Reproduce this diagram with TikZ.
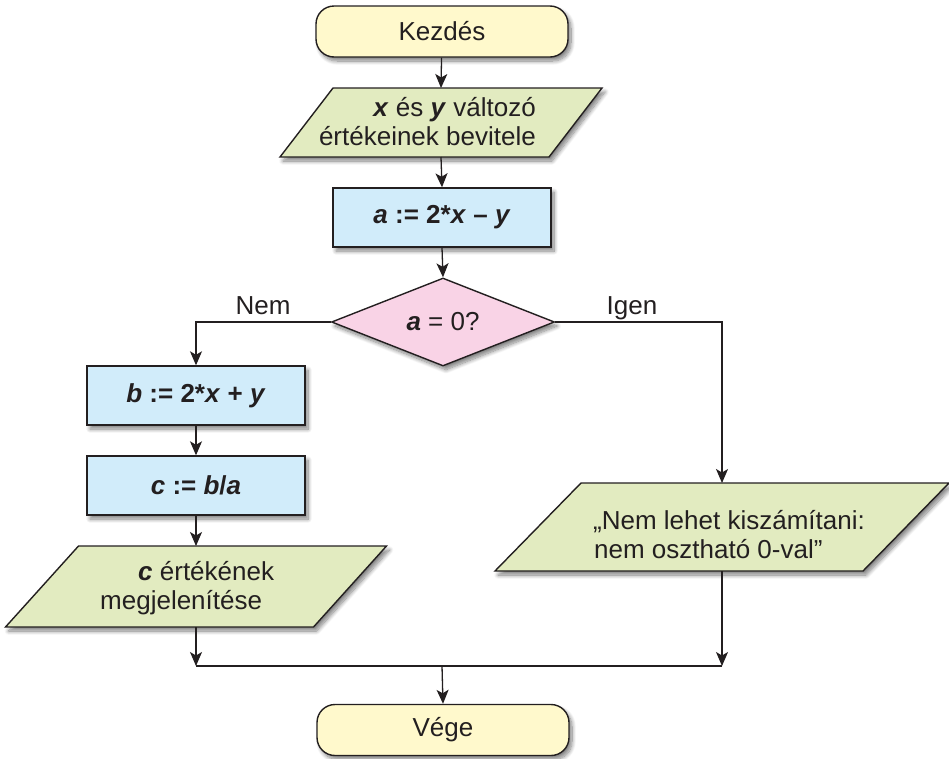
\documentclass[tikz,border=0pt]{standalone}
\usepackage{fontspec}
\setmainfont{Liberation Sans}
\usetikzlibrary{arrows.meta,shapes.geometric,shadows.blur}
\definecolor{linec}{HTML}{231F20}
\definecolor{termfill}{HTML}{FFF9CC}
\definecolor{procfill}{HTML}{D1ECFA}
\definecolor{decfill}{HTML}{F9D3E6}
\definecolor{iofill}{HTML}{E2EBC0}
\newcommand{\bi}[1]{\textbf{\textit{#1}}}
\newcommand{\drawio}[2]{%
  \path[draw=linec, line width=1.4pt, fill=iofill, shad, line join=miter]
    ([xshift=#2]#1.north west) -- ([xshift=#2]#1.north east) --
    ([xshift=-#2]#1.south east) -- ([xshift=-#2]#1.south west) -- cycle;}
\begin{document}
\begin{tikzpicture}[x=1pt,y=-1pt,
  font=\fontsize{26}{29}\selectfont, text=linec,
  shad/.style={blur shadow={shadow xshift=3pt,shadow yshift=-4pt,shadow opacity=50,shadow blur radius=4pt,shadow blur steps=10}},
  line/.style={draw=linec, line width=1.3pt},
  arr/.style={line, -{Stealth[length=14pt,width=12pt,inset=3.5pt]}},
  term/.style={draw=linec, line width=1.4pt, fill=termfill, rounded corners=18pt,
    minimum width=252pt, minimum height=51pt, inner sep=0pt, shad},
  proc/.style={draw=linec, line width=1.4pt, fill=procfill,
    minimum width=218pt, minimum height=59pt, inner sep=0pt, shad},
  dec/.style={diamond, draw=linec, line width=1.4pt, fill=decfill, aspect=2.5,
    minimum width=223pt, minimum height=88pt, inner sep=0pt, shad},
  iobase/.style={inner sep=0pt, outer sep=0pt},
  iotext/.style={inner sep=0pt, align=left},
  lbl/.style={inner sep=0pt}
]
\useasboundingbox (0,0) rectangle (949,758);

\node[term] (start) at (442,31.5) {Kezdés};

\node[iobase, minimum width=269pt, minimum height=69pt] (inp) at (441,122.5) {};
\drawio{inp}{26.5pt}
\node[iotext, align=right, anchor=east] (inpt) at (536,121.5) {\bi{x} és \bi{y} változó\\értékeinek bevitele};

\node[proc] (a) at (442,217.5) {\textbf{\textit{a} := 2*\textit{x} – \textit{y}}};

\node[dec] (dec) at (443,322) {\bi{a} = 0?};

\node[lbl, anchor=base] (nem) at (263,314) {Nem};
\node[lbl, anchor=base] (igen) at (632,314) {Igen};

\node[proc] (b) at (196,395.5) {\textbf{\textit{b} := 2*\textit{x} + \textit{y}}};
\node[proc] (c) at (196,485.5) {\textbf{\textit{c} := \textit{b}\textup{/}\textit{a}}};

\node[iobase, minimum width=308pt, minimum height=81pt] (outc) at (196,586.5) {};
\drawio{outc}{36.5pt}
\node[iotext, anchor=west] (outct) at (100,588.5) {\hspace*{38pt}\bi{c} értékének\\megjelenítése};

\node[iobase, minimum width=368pt, minimum height=88pt] (msg) at (722,527) {};
\drawio{msg}{43pt}
\node[iotext, anchor=west] (msgt) at (593,535) {„Nem lehet kiszámítani:\\\hspace*{1pt}nem osztható 0-val”};

\node[term] (end) at (443,730) {Vége};

\coordinate (jl) at (196,666);
\coordinate (jr) at (722,666);
\coordinate (jm) at (442,666);

\draw[arr] (start) -- (inp.north);
\draw[arr] (inp.south) -- (a.north);
\draw[arr] (a.south) -- (dec.north);
\draw[arr] (dec.west) -| (b.north);
\draw[arr] (b) -- (c);
\draw[arr] (c.south) -- (outc.north);
\draw[arr] (dec.east) -| (msg.north);
\draw[arr] (outc.south) -- (jl);
\draw[arr] (msg.south) -- (jr);
\draw[line] (jl) -- (jr);
\draw[arr] (jm) -- (end.north);
\end{tikzpicture}
\end{document}
